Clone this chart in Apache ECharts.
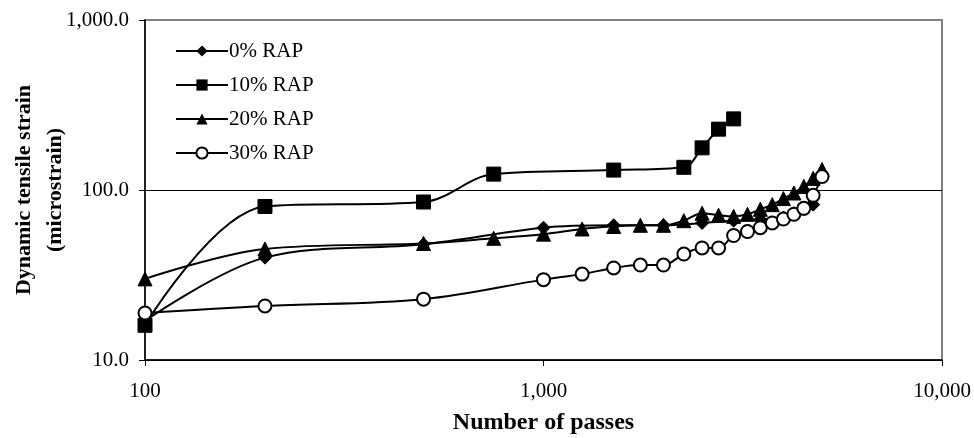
<!DOCTYPE html>
<html>
<head>
<meta charset="utf-8">
<script src="https://cdn.jsdelivr.net/npm/echarts@6/dist/echarts.min.js"></script>
<style>html,body{margin:0;padding:0;background:#fff}#c{width:974px;height:438px}</style>
</head>
<body>
<div id="c"></div>
<script>
const seriesNames = ['0% RAP', '10% RAP', '20% RAP', '30% RAP'];
const xTickLabels = ['100', '1,000', '10,000'];
const yTickLabels = ['10.0', '100.0', '1,000.0'];

const passes0 = [100, 200, 500, 1000, 1500, 2000, 2500, 3000, 3500, 4000, 4250, 4500, 4750];
const strain0 = [17, 40, 48, 60, 62, 62, 64, 66, 67, 69, 73, 77, 82];

const passes10 = [100, 200, 500, 750, 1500, 2250, 2500, 2750, 3000];
const strain10 = [16, 80, 85, 124, 131, 136, 177, 228, 262];

const passes20 = [100, 200, 500, 750, 1000, 1250, 1500, 1750, 2000, 2250, 2500, 2750, 3000, 3250, 3500, 3750, 4000, 4250, 4500, 4750, 5000];
const strain20 = [30, 45, 48.5, 52, 55, 59, 61, 62, 62, 66, 73, 71, 70, 72, 77, 82, 89, 96, 105, 117, 132];

const passes30 = [100, 200, 500, 1000, 1250, 1500, 1750, 2000, 2250, 2500, 2750, 3000, 3250, 3500, 3750, 4000, 4250, 4500, 4750, 5000];
const strain30 = [18.9, 20.8, 22.8, 29.7, 32, 34.8, 36.2, 36.2, 42, 45.6, 45.6, 54, 57, 60, 64, 67.5, 72, 78, 93, 120];

const symbols = ['diamond', 'rect', 'triangle', 'emptyCircle'];
const sizes = [13, 14, 14, 13];
const xs = [passes0, passes10, passes20, passes30];
const ys = [strain0, strain10, strain20, strain30];

const font = '"Liberation Serif", "Times New Roman", serif';

function fmtTick(v, labels, base) {
  const i = Math.round(Math.log10(v));
  return labels[i - base] || '';
}

const chart = echarts.init(document.getElementById('c'));
chart.setOption({
  animation: false,
  backgroundColor: '#fff',
  textStyle: { fontFamily: font, color: '#000' },
  grid: {
    left: 145, right: 32, top: 20, bottom: 78,
    containLabel: false, outerBoundsMode: 'none',
    show: true, borderColor: '#808080', borderWidth: 2, backgroundColor: 'transparent'
  },
  legend: {
    orient: 'vertical',
    left: 170, top: 35,
    itemWidth: 52, itemHeight: 14,
    itemGap: 12,
    textStyle: { fontFamily: font, fontSize: 21, lineHeight: 22, color: '#000', padding: [0, 0, 0, -4] },
    data: seriesNames
  },
  xAxis: {
    type: 'log', logBase: 10, min: 100, max: 10000,
    name: 'Number of passes', nameLocation: 'middle', nameGap: 51, nameMoveOverlap: false,
    nameTextStyle: { fontFamily: font, fontSize: 24, fontWeight: 'bold', color: '#000' },
    axisLine: { show: true, onZero: false, lineStyle: { color: '#000', width: 1.5 } },
    axisTick: { show: true, inside: false, length: 6, lineStyle: { color: '#000' } },
    minorTick: { show: false },
    splitLine: { show: false },
    axisLabel: { fontFamily: font, fontSize: 21, color: '#000', margin: 21,
      formatter: v => fmtTick(v, xTickLabels, 2) }
  },
  yAxis: {
    type: 'log', logBase: 10, min: 10, max: 1000,
    name: 'Dynamic tensile strain\n(microstrain)', nameLocation: 'middle', nameGap: 74, nameMoveOverlap: false,
    nameTextStyle: { fontFamily: font, fontSize: 22, fontWeight: 'bold', color: '#000', lineHeight: 31 },
    axisLine: { show: true, onZero: false, lineStyle: { color: '#000', width: 1.5 } },
    axisTick: { show: true, inside: false, length: 6, lineStyle: { color: '#000' } },
    splitLine: { show: true, lineStyle: { color: ['#000', '#000', 'rgba(0,0,0,0)'], width: 1 } },
    axisLabel: { fontFamily: font, fontSize: 21, color: '#000', margin: 16,
      formatter: v => fmtTick(v, yTickLabels, 1) }
  },
  series: seriesNames.map((name, i) => ({
    name,
    type: 'line',
    smooth: 0.35,
    clip: false,
    symbol: symbols[i],
    symbolSize: sizes[i],
    showAllSymbol: true,
    data: xs[i].map((x, j) => [x, ys[i][j]]),
    lineStyle: { color: '#000', width: 2 },
    itemStyle: i === 3
      ? { color: '#000', borderColor: '#000', borderWidth: 2 }
      : { color: '#000', borderColor: '#000' },
    z: 3 + i
  }))
});
</script>
</body>
</html>
